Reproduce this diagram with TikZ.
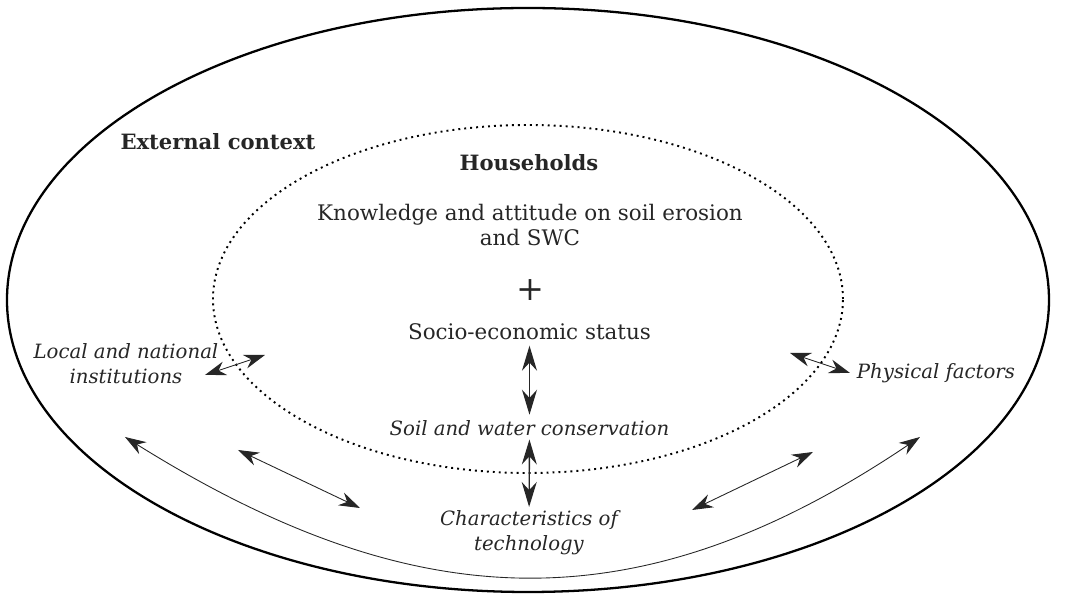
\documentclass[tikz,border=0pt]{standalone}
\usepackage{fontspec}
\setmainfont{DejaVu Serif}
\usepackage{tikz}
\usetikzlibrary{arrows.meta}
\usetikzlibrary{positioning,calc}

\begin{document}
\begin{tikzpicture}
[ txt/.style={text=black!85, align=center, inner sep=2pt, font=\fontsize{12.2}{14.2}\selectfont},
  ttl/.style={txt, font=\fontsize{12}{14.2}\selectfont\bfseries},
  itl/.style={txt, font=\fontsize{11.2}{14.2}\selectfont\itshape},
  link/.style={<->, >={Stealth[length=4.2mm,width=2.8mm]}, draw=black!85, line width=0.5pt},
  vlink/.style={<->, >={Stealth[length=5mm,width=3mm]}, draw=black!85, line width=0.8pt},]
\useasboundingbox (-10.56,-5.9) rectangle (10.76,6);
\draw[line width=1.3pt] (0,0) ellipse [x radius=10.42, y radius=5.84];
\draw[line width=1.1pt, dash pattern=on 1.1pt off 2.3pt] (0,0.02) ellipse [x radius=6.3, y radius=3.48];
\node[ttl] (ext) at (-6.2,3.16) {External context};
\node[ttl] (hh) at (0.02,2.74) {Households};
\node[txt] (know) at (0.04,1.5) {Knowledge and attitude on soil erosion\\ and SWC};
\node[txt, font=\fontsize{19}{19}\selectfont] (plus) at (0.04,0.2) {+};
\node[txt] (soc) at (0.03,-0.64) {Socio-economic status};
\node[itl] (swc) at (0.03,-2.56) {Soil and water conservation};
\node[itl] (tech) at (0.02,-4.66) {Characteristics of\\ technology};
\node[itl] (inst) at (-8.04,-1.28) {Local and national\\ institutions};
\node[itl] (phys) at (8.16,-1.46) {Physical factors};
\coordinate (i1) at (-6.46,-1.5);
\coordinate (i2) at (-5.26,-1.1);
\coordinate (p1) at (5.24,-1.06);
\coordinate (p2) at (6.44,-1.46);
\coordinate (l1) at (-5.8,-3.0);
\coordinate (l2) at (-3.36,-4.16);
\coordinate (r1) at (3.28,-4.2);
\coordinate (r2) at (5.7,-3.04);
\coordinate (c1) at (-8.06,-2.74);
\coordinate (c2) at (7.84,-2.74);
\draw[vlink, shorten <=1pt, shorten >=1pt] (soc) -- (swc);
\draw[vlink] (swc) -- (tech);
\draw[link] (i1) -- (i2);
\draw[link] (p1) -- (p2);
\draw[link] (l1) -- (l2);
\draw[link] (r1) -- (r2);
\draw[link] (c1) to[out=-32, in=-146, looseness=1.1] (c2);
\end{tikzpicture}
\end{document}
